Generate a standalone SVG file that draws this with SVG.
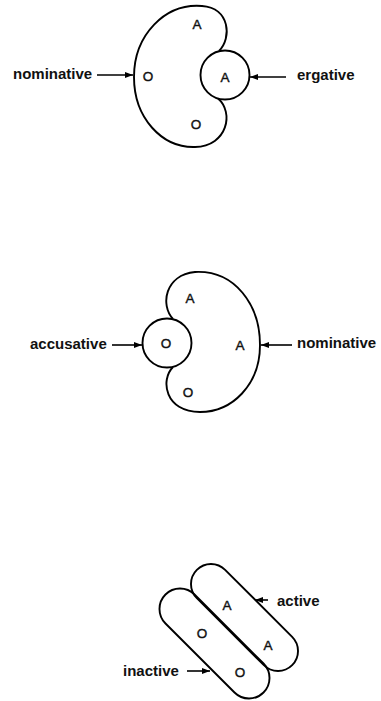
<svg xmlns="http://www.w3.org/2000/svg" width="381" height="701" viewBox="0 0 381 701">
<defs>
<marker id="ah" viewBox="0 0 10 10" refX="10" refY="5" markerWidth="8" markerHeight="6" markerUnits="userSpaceOnUse" orient="auto" preserveAspectRatio="none"><path d="M0,0 L10,5 L0,10 z" fill="#000"/></marker>
<style>
.sh{fill:none;stroke:#000;stroke-width:1.9}
.lbl{font-family:"Liberation Sans",Arial,sans-serif;font-size:15px;font-weight:bold;fill:#111}
.ltr{font-family:"Liberation Sans",Arial,sans-serif;font-size:13.5px;fill:#111;text-anchor:middle;stroke:#111;stroke-width:0.4}
.ar{stroke:#000;stroke-width:1.6;fill:none;marker-end:url(#ah)}
</style>
</defs>
<rect width="381" height="701" fill="#fff"/>
<g id="diagram-ergative">
  <path class="sh" d="M219,51 C232,38 230,8 202,6 C165,3 134,35 134,77 C134,118 162,148 195,147 C228,146 234,112 218,98.5"/>
  <circle class="sh" cx="225" cy="75" r="24.5"/>
  <text class="ltr" x="197" y="29">A</text>
  <text class="ltr" x="148" y="81">O</text>
  <text class="ltr" x="225" y="82">A</text>
  <text class="ltr" x="196" y="129">O</text>
</g>
<g id="diagram-accusative">
  <path class="sh" d="M173,319 C160,305 165,275 195,272 C235,270 260,305 260,345 C260,385 232,412 200,412 C165,412 160,380 173,367"/>
  <circle class="sh" cx="167" cy="343" r="24.5"/>
  <text class="ltr" x="190" y="303">A</text>
  <text class="ltr" x="166" y="348">O</text>
  <text class="ltr" x="240" y="350">A</text>
  <text class="ltr" x="188" y="397">O</text>
</g>
<g id="diagram-active">
  <rect class="sh" x="-67.4" y="-20" width="134.8" height="40" rx="20" transform="translate(244.5,617.5) rotate(45)"/>
  <rect class="sh" x="-69.3" y="-20.5" width="138.6" height="41" rx="20.5" transform="translate(214.5,643.5) rotate(45)"/>
  <text class="ltr" x="227" y="610">A</text>
  <text class="ltr" x="268" y="650">A</text>
  <text class="ltr" x="202" y="638">O</text>
  <text class="ltr" x="240" y="677">O</text>
</g>
<g id="labels">
  <text class="lbl" x="13" y="79">nominative</text>
  <text class="lbl" x="297" y="80">ergative</text>
  <text class="lbl" x="30" y="349">accusative</text>
  <text class="lbl" x="297" y="348">nominative</text>
  <text class="lbl" x="277" y="606">active</text>
  <text class="lbl" x="123" y="676">inactive</text>
</g>
<g id="connectors">
  <line class="ar" x1="97" y1="75" x2="133" y2="75"/>
  <line class="ar" x1="286" y1="77" x2="250" y2="77"/>
  <line class="ar" x1="112" y1="345" x2="142" y2="345"/>
  <line class="ar" x1="292" y1="345" x2="261" y2="345"/>
  <line class="ar" x1="268" y1="600" x2="255" y2="600"/>
  <line class="ar" x1="187" y1="671" x2="210" y2="671"/>
</g>
</svg>
